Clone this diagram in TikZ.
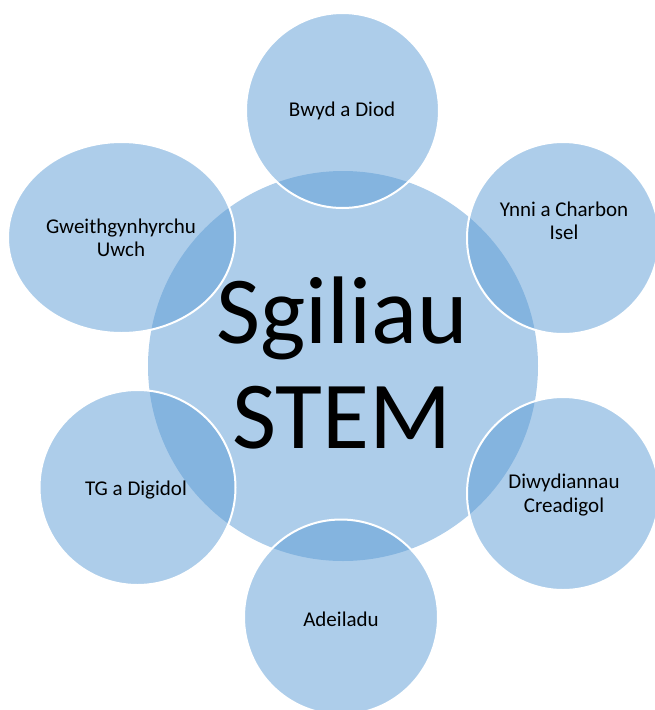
\documentclass[tikz,border=0pt]{standalone}
\usepackage{fontspec}
\setmainfont{Carlito}
\usetikzlibrary{shapes.geometric}
\definecolor{accent}{HTML}{5B9BD5}
\begin{document}
\begin{tikzpicture}[x=1pt,y=-1pt,
  hub/.style={ellipse, inner sep=0pt, outer sep=0pt, fill=accent, fill opacity=0.5},
  bubble/.style={ellipse, inner sep=0pt, outer sep=0pt, fill=accent, fill opacity=0.5, draw=white, draw opacity=1, line width=2pt},
  small/.style={font=\fontsize{21}{23.5}\selectfont, align=center, text=black, inner sep=0pt},
  big/.style={font=\fontsize{96}{105}\selectfont, align=center, text=black, inner sep=0pt}]
\useasboundingbox (0,0) rectangle (655,710);
\clip (0,0) rectangle (655,710);
\node[hub, minimum width=390pt, minimum height=390pt] (hubc) at (343,366) {};
\node[bubble, minimum width=193pt, minimum height=195pt] (b1) at (342.5,110.5) {};
\node[bubble, minimum width=192pt, minimum height=192pt] (b2) at (563,238) {};
\node[bubble, minimum width=192pt, minimum height=193pt] (b3) at (563,493.5) {};
\node[bubble, minimum width=194pt, minimum height=195pt] (b4) at (341,617) {};
\node[bubble, minimum width=196pt, minimum height=195pt] (b5) at (137.5,487.5) {};
\node[bubble, minimum width=227pt, minimum height=191pt] (b6) at (121.5,237.5) {};
\node[big] (t0) at (342,362.5) {Sgiliau\\STEM};
\node[small] (t1) at (342,111) {Bwyd a Diod};
\node[small] (t2) at (564,221) {Ynni a Charbon\\Isel};
\node[small] (t3) at (564,495) {Diwydiannau\\Creadigol};
\node[small] (t4) at (341,619) {Adeiladu};
\node[small] (t5) at (136,490) {TG a Digidol};
\node[small] (t6) at (121,238) {Gweithgynhyrchu\\Uwch};
\end{tikzpicture}
\end{document}
